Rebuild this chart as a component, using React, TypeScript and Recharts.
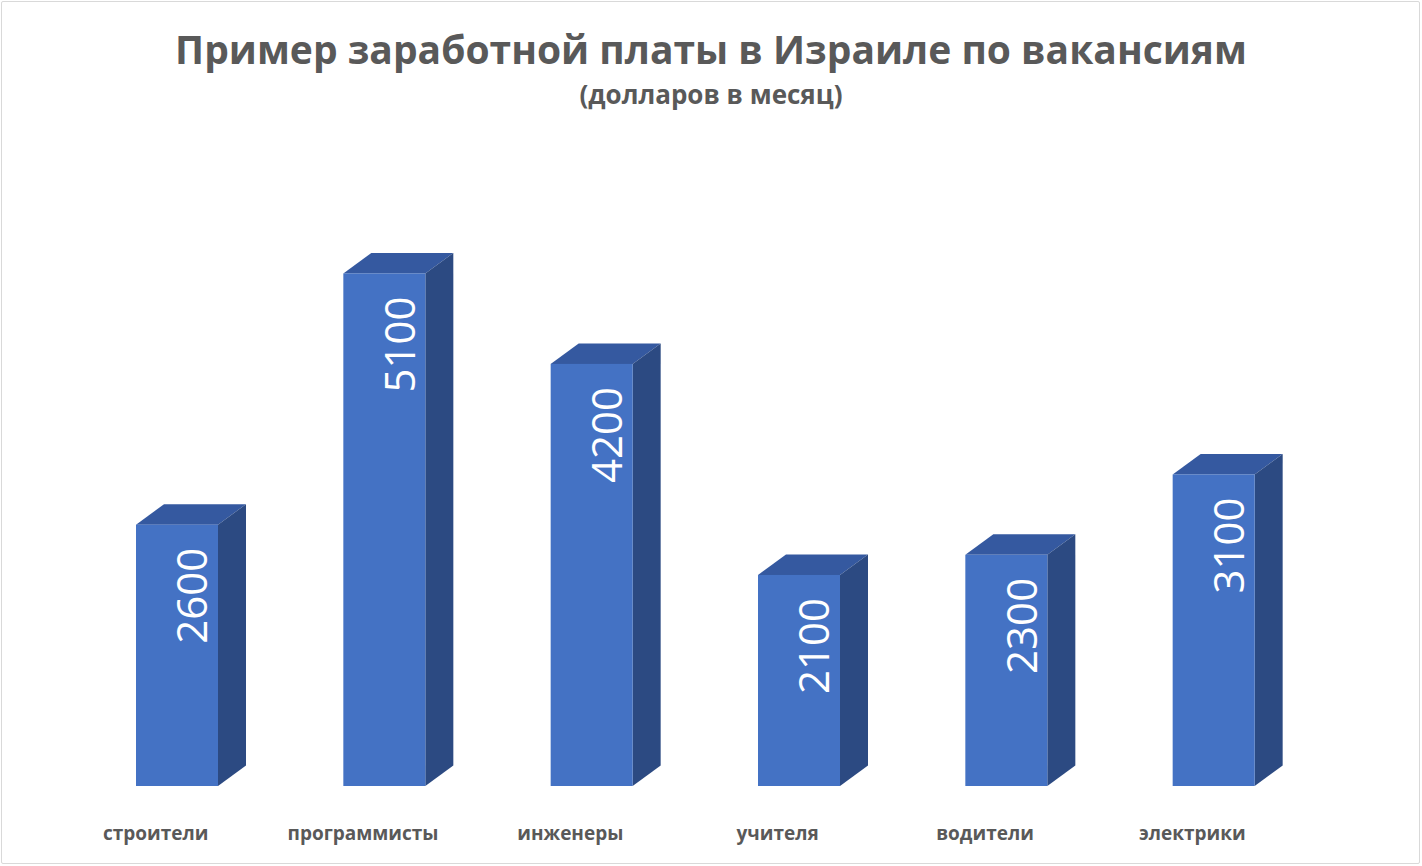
import { Bar, BarChart, LabelList, XAxis, YAxis } from "recharts"

const categories = ["строители", "программисты", "инженеры", "учителя", "водители", "электрики"]
const salaries = [2600, 5100, 4200, 2100, 2300, 3100]

const data = categories.map((name, i) => ({ name, value: salaries[i] }))

const FRONT = "#4472C4"
const TOP = "#3559A0"
const SIDE = "#2C4A82"
const DX = 28
const DY = 20.5
const FONT = "'Open Sans', 'Noto Sans', sans-serif"

function Box3D(props: any) {
  const { x, y, width, height } = props
  const r = x + width
  const b = y + height
  return (
    <g>
      <polygon points={`${x},${y} ${x + DX},${y - DY} ${r + DX},${y - DY} ${r},${y}`} fill={TOP} />
      <polygon points={`${r},${y} ${r + DX},${y - DY} ${r + DX},${b - DY} ${r},${b}`} fill={SIDE} />
      <rect x={x} y={y} width={width} height={height} fill={FRONT} />
    </g>
  )
}

function ValueLabel(props: any) {
  const { x, y, width, value } = props
  const cx = x + (width + DX) / 2
  const cy = y + 23
  return (
    <text
      x={cx}
      y={cy}
      transform={`rotate(-90 ${cx} ${cy})`}
      textAnchor="end"
      dominantBaseline="central"
      fill="#ffffff"
      fontSize={42}
      fontFamily={FONT}
    >
      {value}
    </text>
  )
}

function CategoryTick(props: any) {
  const { x, y, payload } = props
  return (
    <text
      x={x - 21}
      y={y + 54}
      textAnchor="middle"
      fill="#595959"
      fontSize={19}
      fontWeight={700}
      fontFamily={FONT}
    >
      {payload.value}
    </text>
  )
}

export default function App() {
  return (
    <div style={{ position: "absolute", left: 0, top: 0, width: 1422, height: 866, background: "#fff" }}>
      <div
        style={{
          position: "absolute",
          left: 1,
          top: 1,
          width: 1417,
          height: 861,
          border: "1px solid #D9D9D9",
          borderRadius: 2,
        }}
      />
      <div
        style={{
          position: "absolute",
          left: 0,
          top: 24,
          width: 1422,
          textAlign: "center",
          fontFamily: FONT,
          fontWeight: 700,
          color: "#595959",
        }}
      >
        <div style={{ fontSize: 39, lineHeight: "50px" }}>Пример заработной платы в Израиле по вакансиям</div>
        <div style={{ fontSize: 26, lineHeight: "40px" }}>(долларов в месяц)</div>
      </div>
      <div style={{ position: "absolute", left: 0, top: 0 }}>
        <BarChart
          width={1422}
          height={866}
          data={data}
          margin={{ top: 183, right: 105, bottom: 30, left: 73 }}
          barSize={82}
        >
          <XAxis
            dataKey="name"
            axisLine={false}
            tickLine={false}
            tickSize={0}
            tickMargin={0}
            height={50}
            interval={0}
            tick={<CategoryTick />}
          />
          <YAxis hide domain={[0, 6000]} />
          <Bar dataKey="value" shape={<Box3D />} isAnimationActive={false}>
            <LabelList dataKey="value" content={<ValueLabel />} />
          </Bar>
        </BarChart>
      </div>
    </div>
  )
}
